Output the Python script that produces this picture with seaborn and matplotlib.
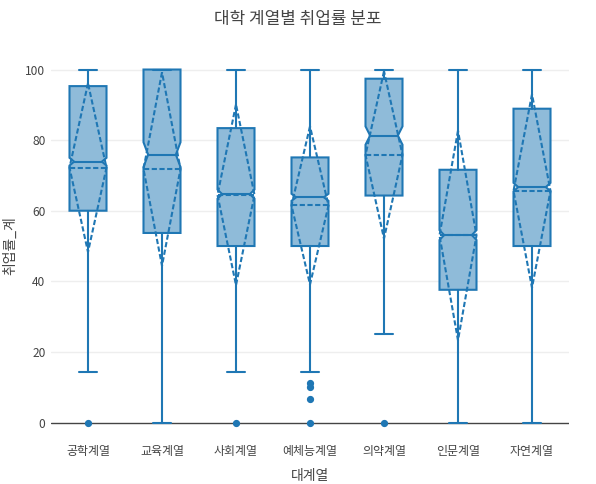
import numpy as np
import matplotlib
matplotlib.use("Agg")
import matplotlib.pyplot as plt
import seaborn as sns
from matplotlib.path import Path

categories = ["공학계열", "교육계열", "사회계열", "예체능계열", "의약계열", "인문계열", "자연계열"]
q1 = [60.0, 53.7, 50.0, 50.0, 64.3, 37.6, 50.0]
median = [73.9, 75.9, 64.7, 63.8, 81.3, 53.1, 66.7]
q3 = [95.3, 100.0, 83.4, 75.1, 97.4, 71.6, 88.9]
notch_half = [1.1, 3.5, 1.3, 1.0, 2.6, 1.4, 1.2]
lower_fence = [14.3, 0.0, 14.3, 14.3, 25.0, 0.0, 0.0]
upper_fence = [100.0, 100.0, 100.0, 100.0, 100.0, 100.0, 100.0]
means = [72.2, 71.8, 64.5, 61.5, 75.8, 53.0, 65.6]
sds = [23.9, 27.4, 25.6, 22.4, 23.7, 29.7, 27.4]
outliers = [[0.0], [], [0.0], [11.1, 10.0, 6.7, 0.0], [0.0], [], []]
yticks = [0, 20, 40, 60, 80, 100]

title = "대학 계열별 취업률 분포"
xlabel = "대계열"
ylabel = "취업률_계"

sns.set_theme(style="white")
plt.rcParams['font.family'] = ['Noto Sans CJK KR', 'DejaVu Sans']

LINE = "#1f77b4"
FILL = "#8fbbd9"
TXT = "#444444"

fig = plt.figure(figsize=(5.96, 4.84), dpi=100)
ax = fig.add_axes([51 / 596, 0.0884, 518 / 596, 0.8066])

positions = list(range(len(categories)))
width = 0.5
stats = []
for i in positions:
    stats.append(dict(med=median[i], q1=q1[i], q3=q3[i],
                      cilo=median[i] - notch_half[i], cihi=median[i] + notch_half[i],
                      whislo=lower_fence[i], whishi=upper_fence[i],
                      fliers=outliers[i], label=categories[i]))

lw = 1.5
res = ax.bxp(stats, positions=positions, widths=width, shownotches=True,
             patch_artist=True, capwidths=width * 0.5,
             boxprops=dict(facecolor=FILL, edgecolor=LINE, linewidth=lw),
             whiskerprops=dict(color=LINE, linewidth=lw),
             capprops=dict(color=LINE, linewidth=lw),
             medianprops=dict(color=LINE, linewidth=lw),
             flierprops=dict(marker='o', markerfacecolor=LINE, markeredgecolor=LINE,
                             markersize=4.2, linestyle='none'),
             zorder=3)

# plotly-style notch depth (75% of box width at the median)
for i, patch in enumerate(res['boxes']):
    p = patch.get_path()
    v = p.vertices.copy()
    for k in range(len(v)):
        if abs(v[k, 0] - (positions[i] + width * 0.25)) < 1e-9:
            v[k, 0] = positions[i] + width * 0.375
        elif abs(v[k, 0] - (positions[i] - width * 0.25)) < 1e-9:
            v[k, 0] = positions[i] - width * 0.375
    patch.set_path(Path(v, p.codes))
for i, line in enumerate(res['medians']):
    line.set_xdata([positions[i] - width * 0.375, positions[i] + width * 0.375])

# mean and standard deviation (dashed)
dash = (0, (2.5, 1.2))
for i in positions:
    x0, x1 = positions[i] - width / 2, positions[i] + width / 2
    ax.plot([x0, x1], [means[i], means[i]], color=LINE, lw=lw, linestyle=dash, zorder=4)
    ax.plot([positions[i], x0, positions[i], x1, positions[i]],
            [means[i] + sds[i], means[i], means[i] - sds[i], means[i], means[i] + sds[i]],
            color=LINE, lw=lw, linestyle=dash, zorder=4)

ax.set_xlim(-0.5, len(categories) - 0.5)
ax.set_ylim(-5.3, 105.3)
ax.set_yticks(yticks)
ax.set_yticklabels([str(t) for t in yticks])
ax.set_xticks(positions)
ax.set_xticklabels(categories)
ax.tick_params(axis='both', length=0, labelsize=8.6, colors=TXT)
ax.tick_params(axis='x', pad=3)
ax.tick_params(axis='y', pad=4)
for t in yticks:
    if t != 0:
        ax.axhline(t, color="#eeeeee", lw=1, zorder=0)
ax.axhline(0, color=TXT, lw=1, zorder=2)
for s in ax.spines.values():
    s.set_visible(False)

ax.set_xlabel(xlabel, fontsize=10, color=TXT, labelpad=8)
ax.set_ylabel(ylabel, fontsize=10, color=TXT, labelpad=6)
fig.text(0.5, 1 - 19 / 484, title, ha='center', va='center', fontsize=12.2, color=TXT)

fig.savefig("out.png", dpi=100)
